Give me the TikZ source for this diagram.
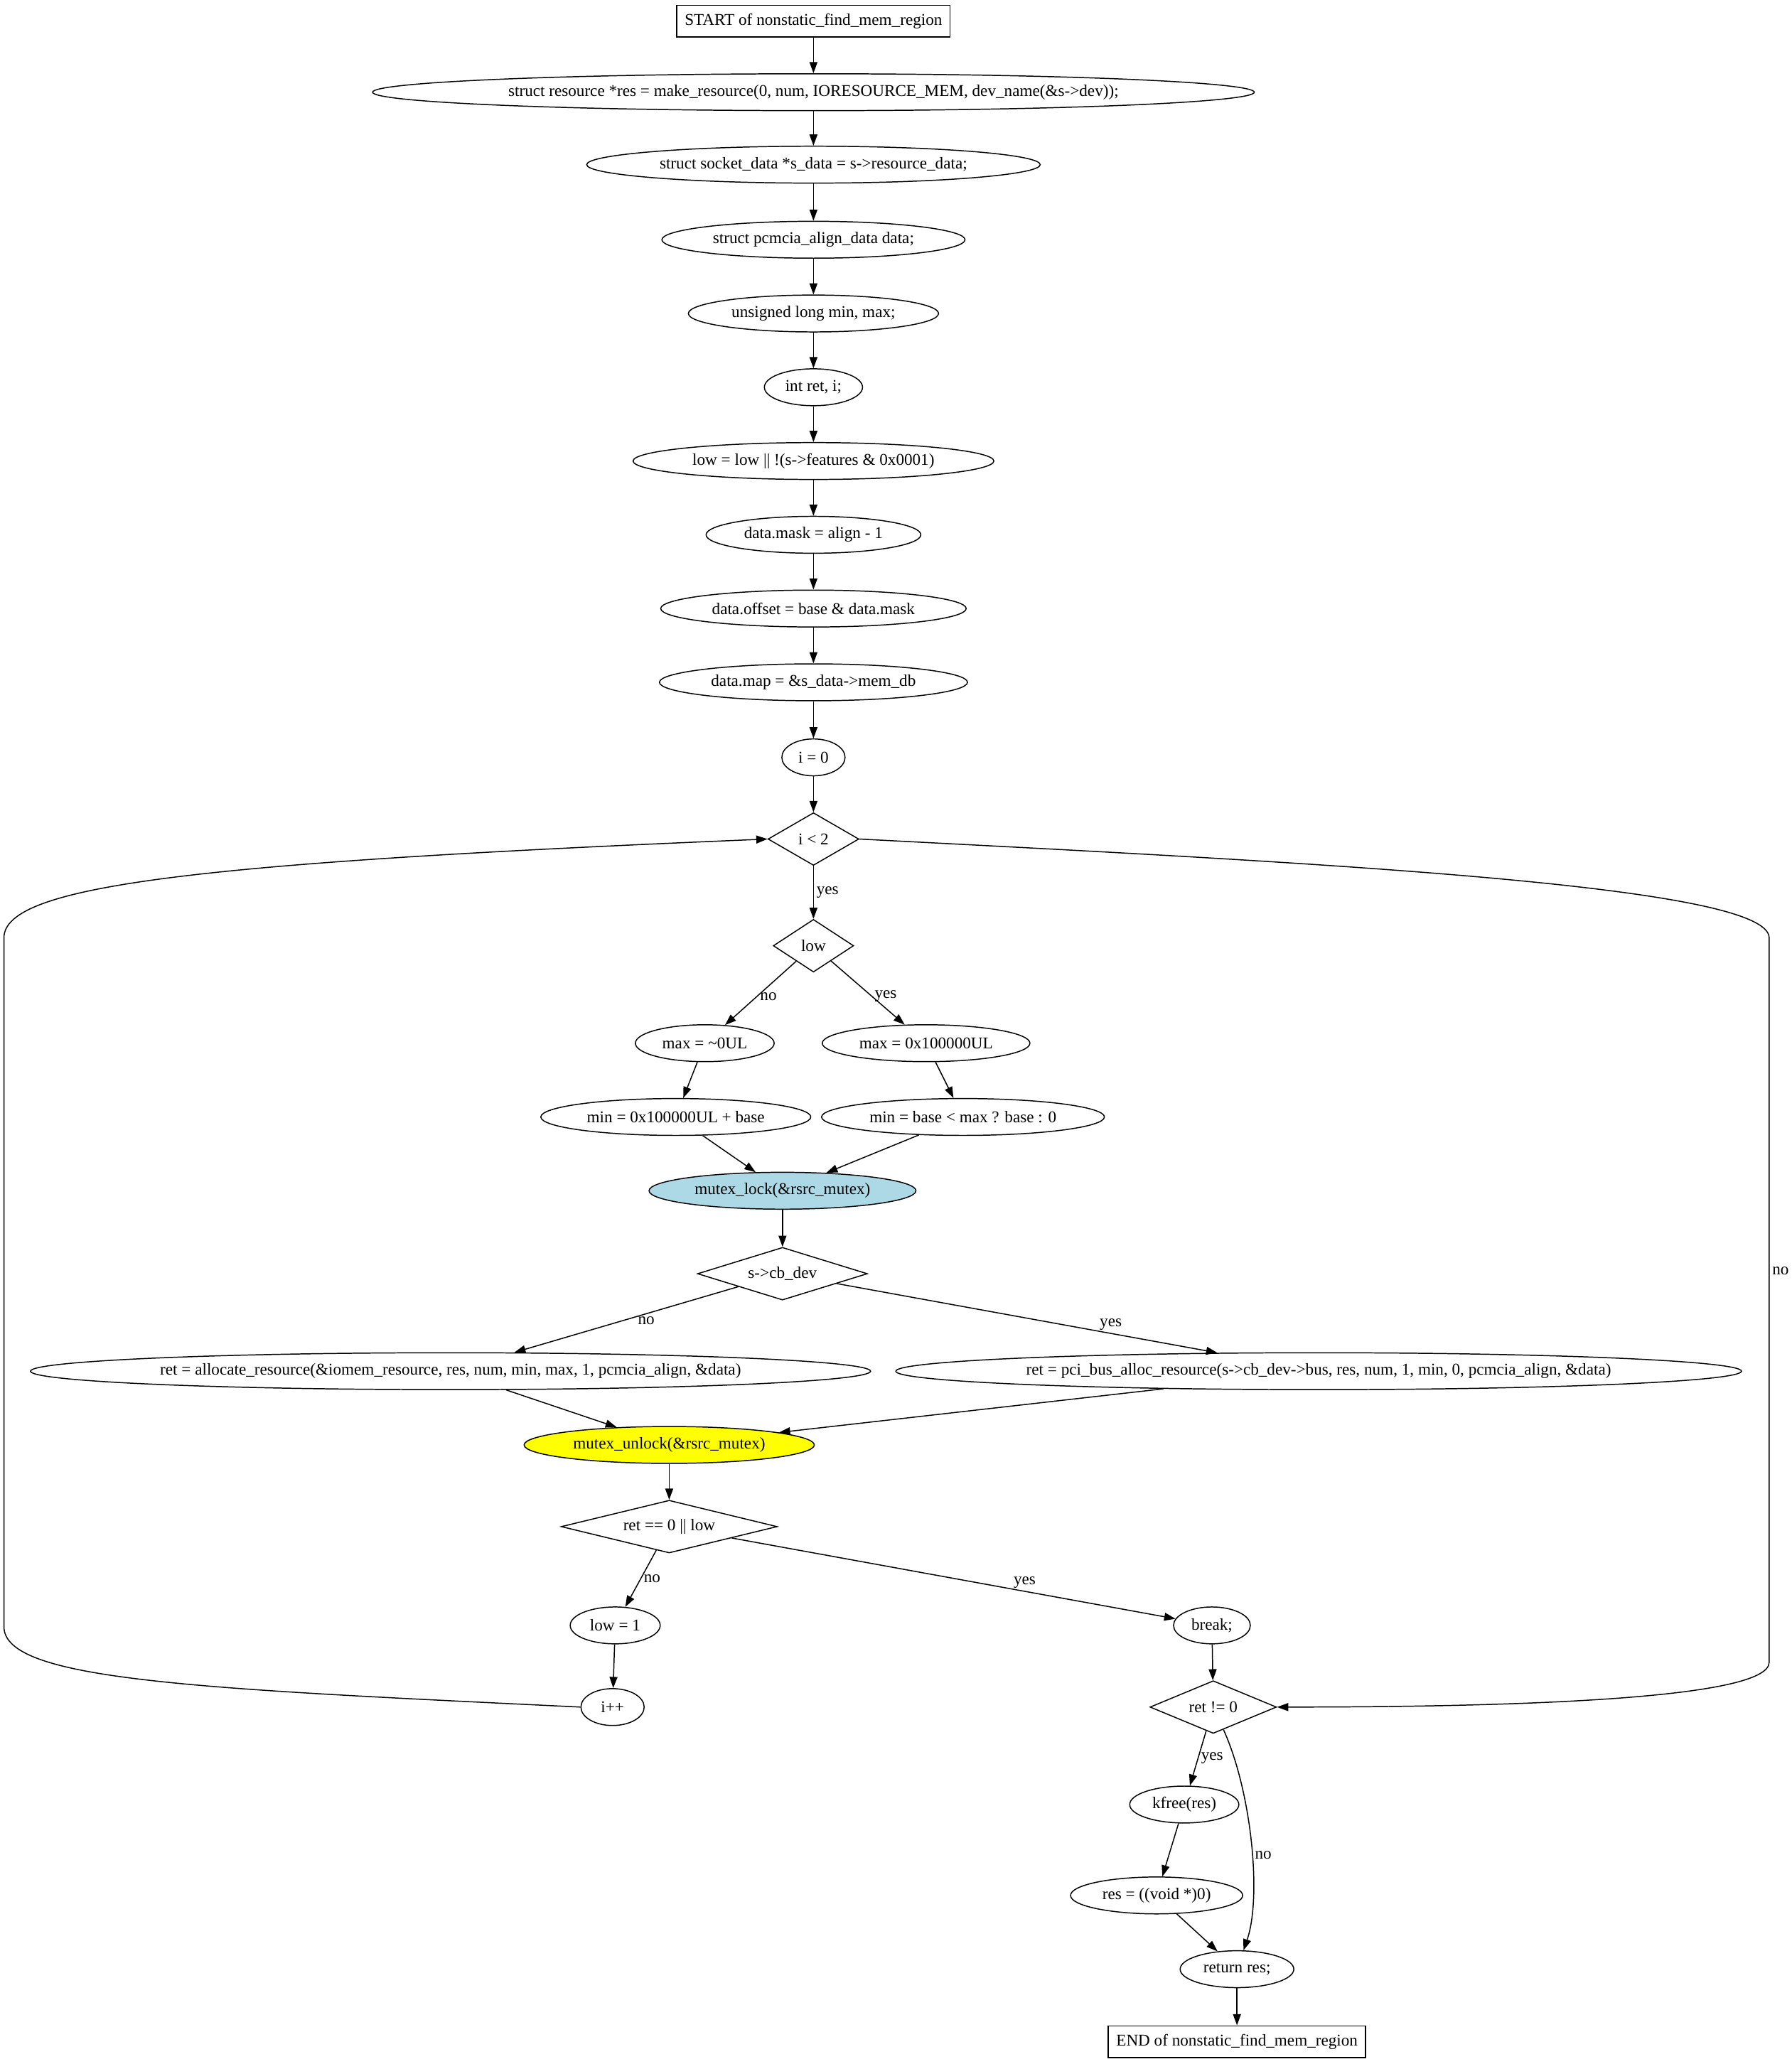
\documentclass[tikz,border=0pt]{standalone}
\usepackage{fontspec}
\setmainfont{Liberation Serif}
\usepackage{tikz}
\usepackage{xcolor}
\usetikzlibrary{positioning, arrows.meta, shapes.geometric}
\definecolor{lockblue}{RGB}{173, 216, 230}
\definecolor{unlockyellow}{RGB}{255, 255, 0}
\newcommand{\graphfont}{\fontsize{12.5}{15}\selectfont}
\tikzset{
    stmtnode/.style={ellipse, draw, line width=0.8pt, inner xsep=5pt, inner ysep=0pt, minimum height=28pt, minimum width=48pt, font=\graphfont},
    condnode/.style={diamond, draw, line width=0.8pt, inner sep=0pt, aspect=3, minimum height=40pt, minimum width=#1, font=\graphfont},
    condnode/.default=60pt,
    termnode/.style={rectangle, draw, line width=0.8pt, minimum height=24pt, inner xsep=6pt, font=\graphfont},
    locknode/.style={stmtnode, fill=lockblue},
    unlocknode/.style={stmtnode, fill=unlockyellow},
    flow/.style={-{Triangle[length=8.5pt, width=6pt]}, line width=0.8pt},
    lbl/.style={font=\graphfont, inner sep=2pt}
}

\begin{document}
\begin{tikzpicture}[x=1pt, y=1pt]
    \useasboundingbox (0,0) rectangle (1360,-1567);
    % straight part
    \node[termnode] (start) at (617.5,-16) {START of nonstatic\_find\_mem\_region};
    \node[stmtnode] (mkres) at (617.5,-70) {struct resource *res = make\_resource(0, num, IORESOURCE\_MEM, dev\_name(\&s->dev));};
    \node[stmtnode] (sdata) at (617.5,-125) {struct socket\_data *s\_data = s->resource\_data;};
    \node[stmtnode] (adata) at (617.5,-182) {struct pcmcia\_align\_data data;};
    \node[stmtnode] (ulong) at (617.5,-238) {unsigned long min, max;};
    \node[stmtnode] (intret) at (617.5,-294) {int ret, i;};
    \node[stmtnode] (lowset) at (617.5,-350) {low = low || !(s->features \& 0x0001)};
    \node[stmtnode] (dmask) at (617.5,-406) {data.mask = align - 1};
    \node[stmtnode] (doffset) at (617.5,-462) {data.offset = base \& data.mask};
    \node[stmtnode] (dmap) at (617.5,-518) {data.map = \&s\_data->mem\_db};
    \node[stmtnode] (izero) at (617.5,-575) {i = 0};
    % loop
    \node[condnode=69pt] (ilt) at (617.5,-637) {i < 2};
    \node[condnode=61pt] (lowq) at (617.5,-718) {low};
    \node[stmtnode] (maxall) at (535,-792) {max = \textasciitilde 0UL};
    \node[stmtnode] (maxlow) at (703,-792) {max = 0x100000UL};
    \node[stmtnode] (minall) at (513,-848) {min = 0x100000UL + base};
    \node[stmtnode] (minlow) at (731,-848) {min = base < max ? base : 0};
    \node[locknode] (lock) at (594,-904) {mutex\_lock(\&rsrc\_mutex)};
    \node[condnode=129pt] (cbdev) at (594,-967) {s->cb\_dev};
    \node[stmtnode] (alloc) at (342,-1041) {ret = allocate\_resource(\&iomem\_resource, res, num, min, max, 1, pcmcia\_align, \&data)};
    \node[stmtnode] (pcialloc) at (1001,-1041) {ret = pci\_bus\_alloc\_resource(s->cb\_dev->bus, res, num, 1, min, 0, pcmcia\_align, \&data)};
    \node[unlocknode] (unlock) at (508,-1097) {mutex\_unlock(\&rsrc\_mutex)};
    \node[condnode=164pt] (retq) at (508,-1159) {ret == 0 || low};
    \node[stmtnode] (lowone) at (467,-1234) {low = 1};
    \node[stmtnode] (brk) at (920,-1234) {break;};
    \node[stmtnode] (ipp) at (465,-1296) {i++};
    % after the loop
    \node[condnode=96pt] (retnz) at (921,-1296) {ret != 0};
    \node[stmtnode] (kfree) at (899,-1370) {kfree(res)};
    \node[stmtnode] (resnull) at (878,-1439) {res = ((void *)0)};
    \node[stmtnode] (retres) at (939,-1495) {return res;};
    \node[termnode] (finish) at (939,-1550) {END of nonstatic\_find\_mem\_region};

    \draw[flow] (start) -- (mkres);
    \draw[flow] (mkres) -- (sdata);
    \draw[flow] (sdata) -- (adata);
    \draw[flow] (adata) -- (ulong);
    \draw[flow] (ulong) -- (intret);
    \draw[flow] (intret) -- (lowset);
    \draw[flow] (lowset) -- (dmask);
    \draw[flow] (dmask) -- (doffset);
    \draw[flow] (doffset) -- (dmap);
    \draw[flow] (dmap) -- (izero);
    \draw[flow] (izero) -- (ilt);
    \draw[flow] (ilt) -- node[lbl, right] {yes} (lowq);
    \draw[flow] (lowq) -- node[lbl, right, pos=0.55] {no} (maxall);
    \draw[flow] (lowq) -- node[lbl, right, pos=0.55] {yes} (maxlow);
    \draw[flow] (maxall) -- (minall);
    \draw[flow] (maxlow) -- (minlow);
    \draw[flow] (minall) -- (lock);
    \draw[flow] (minlow) -- (lock);
    \draw[flow] (lock) -- (cbdev);
    \draw[flow] (cbdev) -- node[lbl, below right, pos=0.45, inner sep=0pt] {no} (alloc);
    \draw[flow] (cbdev) -- node[lbl, above, pos=0.72] {yes} (pcialloc);
    \draw[flow] (alloc) -- (unlock);
    \draw[flow] (pcialloc) -- (unlock);
    \draw[flow] (unlock) -- (retq);
    \draw[flow] (retq) -- node[lbl, right] {no} (lowone);
    \draw[flow] (retq) -- node[lbl, above, pos=0.66] {yes} (brk);
    \draw[flow] (lowone) -- (ipp);
    \draw[flow] (ipp.west) .. controls (150,-1282) and (3,-1276) .. (3,-1235)
        -- (3,-712) .. controls (3,-672) and (150,-655) .. (ilt.west);
    \draw[flow] (ilt.east) .. controls (1000,-655) and (1343,-672) .. (1343,-712)
        -- node[lbl, right, pos=0.46] {no} (1343,-1262) .. controls (1343,-1290) and (1150,-1296) .. (retnz.east);
    \draw[flow] (brk) -- (retnz);
    \draw[flow] (retnz) -- node[lbl, right] {yes} (kfree);
    \draw[flow] (retnz) .. controls (950,-1360) and (958,-1440) .. node[lbl, right, pos=0.55] {no} (retres);
    \draw[flow] (kfree) -- (resnull);
    \draw[flow] (resnull) -- (retres);
    \draw[flow] (retres) -- (finish);
\end{tikzpicture}
\end{document}
